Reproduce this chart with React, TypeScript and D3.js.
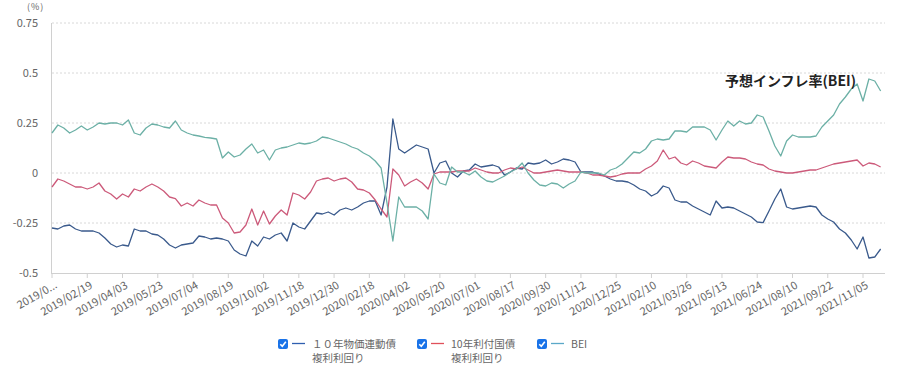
import React from "react";
import * as d3 from "d3";

const width = 900;
const height = 374;

// x ticks every 30 trading days, data sampled every 5 trading days
const tickLabels = [
  "2019/0...", "2019/02/19", "2019/04/03", "2019/05/23", "2019/07/04", "2019/08/19",
  "2019/10/02", "2019/11/18", "2019/12/30", "2020/02/18", "2020/04/02", "2020/05/20",
  "2020/07/01", "2020/08/17", "2020/09/30", "2020/11/12", "2020/12/25", "2021/02/10",
  "2021/03/26", "2021/05/13", "2021/06/24", "2021/08/10", "2021/09/22", "2021/11/05",
];
const tickEvery = 30;
const sampleEvery = 5;
const lastDay = 707;

const yTicks = [0.75, 0.5, 0.25, 0, -0.25, -0.5];

// 10年物価連動債 複利利回り
const linkerYield = [
  -0.275, -0.28, -0.265, -0.26, -0.28, -0.29, -0.29, -0.29, -0.3, -0.325,
  -0.355, -0.37, -0.36, -0.365, -0.28, -0.29, -0.29, -0.305, -0.31, -0.33,
  -0.36, -0.375, -0.36, -0.355, -0.35, -0.315, -0.32, -0.33, -0.325, -0.33,
  -0.34, -0.385, -0.405, -0.415, -0.34, -0.365, -0.32, -0.33, -0.31, -0.3,
  -0.34, -0.25, -0.27, -0.28, -0.24, -0.2, -0.205, -0.195, -0.21, -0.185,
  -0.175, -0.185, -0.17, -0.15, -0.14, -0.14, -0.21, -0.07, 0.27, 0.12,
  0.1, 0.12, 0.14, 0.13, 0.12, 0.0, 0.05, 0.06, 0.0, -0.02,
  0.01, 0.015, 0.045, 0.03, 0.035, 0.04, 0.03, -0.01, 0.005, 0.025,
  0.02, 0.05, 0.045, 0.05, 0.065, 0.045, 0.055, 0.07, 0.065, 0.055,
  0.005, 0.005, 0.005, -0.005, -0.015, -0.03, -0.04, -0.04, -0.045, -0.06,
  -0.08, -0.09, -0.115, -0.1, -0.065, -0.075, -0.135, -0.145, -0.145, -0.165,
  -0.18, -0.195, -0.21, -0.14, -0.175, -0.17, -0.175, -0.19, -0.205, -0.22,
  -0.245, -0.248, -0.19, -0.13, -0.08, -0.17, -0.18, -0.175, -0.17, -0.165,
  -0.17, -0.21, -0.23, -0.245, -0.28, -0.3, -0.335, -0.38, -0.32, -0.425,
  -0.42, -0.38,
];

// 10年利付国債 複利利回り
const jgbYield = [
  -0.07, -0.03, -0.04, -0.055, -0.07, -0.07, -0.08, -0.07, -0.05, -0.09,
  -0.105, -0.13, -0.105, -0.12, -0.08, -0.09, -0.07, -0.055, -0.07, -0.09,
  -0.12, -0.128, -0.165, -0.15, -0.165, -0.135, -0.15, -0.16, -0.16, -0.225,
  -0.25, -0.3, -0.295, -0.26, -0.18, -0.26, -0.19, -0.255, -0.215, -0.185,
  -0.21, -0.1, -0.11, -0.13, -0.095, -0.04, -0.03, -0.025, -0.04, -0.03,
  -0.025, -0.045, -0.08, -0.085, -0.1, -0.135, -0.18, -0.22, 0.02, -0.01,
  -0.065, -0.045, -0.03, -0.05, -0.08, -0.005, 0.005, 0.005, 0.005, 0.01,
  0.01, 0.01, 0.025, 0.015, 0.005, 0.0, 0.0, 0.015, 0.025, 0.02,
  0.03, 0.015, 0.0, 0.0, 0.005, 0.01, 0.015, 0.01, 0.005, 0.005,
  0.005, 0.0, -0.01, -0.01, -0.015, -0.02, -0.015, -0.005, 0.0, 0.0,
  0.0, 0.02, 0.035, 0.06, 0.115, 0.07, 0.08, 0.05, 0.04, 0.06,
  0.05, 0.035, 0.03, 0.025, 0.055, 0.08, 0.075, 0.075, 0.07, 0.055,
  0.045, 0.04, 0.02, 0.01, 0.005, 0.0, 0.0, 0.005, 0.01, 0.015,
  0.015, 0.025, 0.035, 0.045, 0.05, 0.055, 0.06, 0.065, 0.035, 0.05,
  0.045, 0.03,
];

// BEI
const bei = [
  0.2, 0.24, 0.225, 0.2, 0.215, 0.235, 0.215, 0.23, 0.25, 0.245,
  0.25, 0.25, 0.24, 0.265, 0.2, 0.19, 0.225, 0.245, 0.24, 0.23,
  0.225, 0.26, 0.215, 0.2, 0.19, 0.185, 0.178, 0.175, 0.17, 0.075,
  0.105, 0.08, 0.09, 0.12, 0.145, 0.1, 0.115, 0.065, 0.115, 0.125,
  0.13, 0.14, 0.15, 0.145, 0.15, 0.16, 0.18, 0.175, 0.165, 0.155,
  0.145, 0.13, 0.12, 0.1, 0.085, 0.06, 0.025, -0.15, -0.34, -0.12,
  -0.17, -0.17, -0.17, -0.19, -0.23, -0.005, -0.05, -0.06, 0.03, 0.005,
  0.005, -0.01, 0.01, -0.02, -0.04, -0.045, -0.03, -0.015, 0.005, 0.02,
  0.05, 0.0, -0.035, -0.06, -0.065, -0.05, -0.055, -0.075, -0.055, -0.04,
  0.005, 0.0, 0.0, 0.0, -0.01, 0.015, 0.025, 0.045, 0.075, 0.105,
  0.1, 0.12, 0.16, 0.17, 0.165, 0.17, 0.21, 0.21, 0.205, 0.23,
  0.23, 0.23, 0.215, 0.165, 0.215, 0.26, 0.235, 0.26, 0.245, 0.25,
  0.29, 0.28, 0.21, 0.135, 0.085, 0.16, 0.19, 0.18, 0.18, 0.18,
  0.185, 0.23, 0.26, 0.29, 0.345, 0.38, 0.42, 0.445, 0.36, 0.47,
  0.46, 0.41,
];

const series = [
  { name: ["１０年物価連動債", "複利利回り"], values: linkerYield, color: "#3a5a8c", legendColor: "#2f5fb0" },
  { name: ["10年利付国債", "複利利回り"], values: jgbYield, color: "#cc5a7a", legendColor: "#e0505a" },
  { name: ["BEI"], values: bei, color: "#6cb0a6", legendColor: "#5aa8c8" },
];

const font = '"Noto Sans CJK JP", "Noto Sans", sans-serif';

const App = () => {
  const x = d3.scaleLinear().domain([0, lastDay]).range([52, 883]);
  const y = d3.scaleLinear().domain([-0.5, 0.75]).range([273, 23]);

  const line = d3
    .line<number>()
    .x((d, i) => x(i * sampleEvery))
    .y((d) => y(d));

  const legendX = [278, 417, 537];

  return (
    <svg
      width={width}
      height={height}
      style={{ position: "absolute", left: 0, top: 0, fontFamily: font }}
    >
      <rect width={width} height={height} fill="#fff" />
      <text x={27} y={10} fontSize={9} fill="#666" letterSpacing={1}>(%)</text>

      {yTicks.map((t) => (
        <g key={t}>
          {t > -0.5 && (
            <line x1={52} x2={885} y1={y(t)} y2={y(t)} stroke="#d8d8d8" strokeDasharray="2,2" />
          )}
          <text x={38} y={y(t)} dy="0.35em" textAnchor="end" fontSize={11} fill="#666">
            {t}
          </text>
        </g>
      ))}

      <line x1={51.5} x2={51.5} y1={23} y2={273} stroke="#d0d0d0" />
      <line x1={51} x2={885} y1={273.5} y2={273.5} stroke="#d0d0d0" />

      {tickLabels.map((label, i) => {
        const tx = x(i * tickEvery);
        return (
          <g key={label}>
            <line x1={tx} x2={tx} y1={273} y2={278} stroke="#d0d0d0" />
            <text
              transform={`translate(${tx + 4},${284}) rotate(-30)`}
              textAnchor="end"
              dy="0.35em"
              fontSize={11}
              fill="#666"
            >
              {label}
            </text>
          </g>
        );
      })}

      {series.map((s) => (
        <path
          key={s.name[0]}
          d={line(s.values) ?? ""}
          fill="none"
          stroke={s.color}
          strokeWidth={1.3}
          strokeLinejoin="round"
        />
      ))}

      <text x={725} y={86} fontSize={14} fontWeight="bold" fill="#222">
        予想インフレ率(BEI)
      </text>

      {series.map((s, i) => {
        const lx = legendX[i];
        return (
          <g key={s.name[0]} transform={`translate(${lx},339)`}>
            <rect width={10} height={10} rx={2} fill="#1a73e8" />
            <path d="M2.3,5.2 L4.3,7.2 L7.8,2.8" fill="none" stroke="#fff" strokeWidth={1.6} />
            <line x1={14} x2={27} y1={4.5} y2={4.5} stroke={s.legendColor} strokeWidth={1.3} />
            {s.name.map((n, j) => (
              <text key={n} x={34} y={9 + j * 14} fontSize={10.5} fill="#666">
                {n}
              </text>
            ))}
          </g>
        );
      })}
    </svg>
  );
};

export default App;
